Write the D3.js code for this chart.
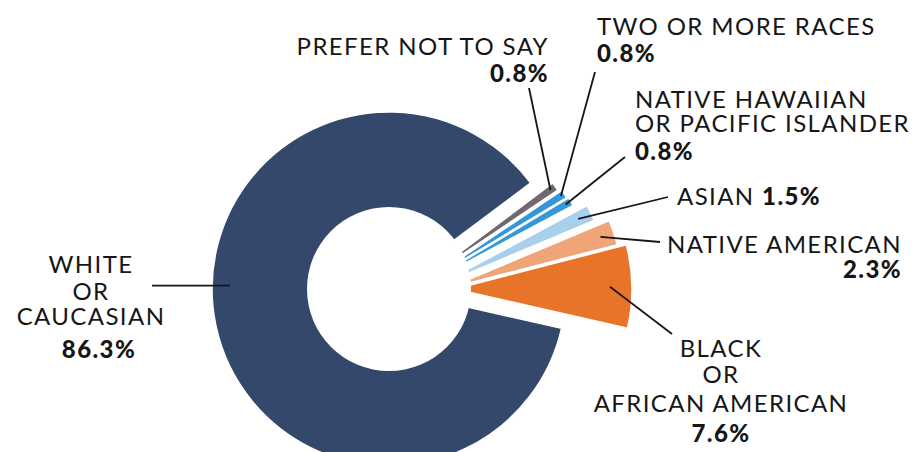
<!DOCTYPE html>
<html>
<head>
<meta charset="utf-8">
<script src="https://cdn.jsdelivr.net/npm/d3@7"></script>
<style>
  html, body { margin: 0; padding: 0; background: #ffffff; }
  svg { display: block; }
  text { font-family: Lato, "Open Sans", sans-serif; fill: #161616; }
</style>
</head>
<body>
<svg id="chart" width="919" height="452"></svg>
<script>
// ---- data -------------------------------------------------------------
const categories = [
  "Prefer not to say",
  "Two or more races",
  "Native Hawaiian or Pacific Islander",
  "Asian",
  "Native American",
  "Black or African American",
  "White or Caucasian"
];
const shares = [0.8, 0.8, 0.8, 1.5, 2.3, 7.6, 86.3];   // percent
const labelLines = [
  ["PREFER NOT TO SAY"],
  ["TWO OR MORE RACES"],
  ["NATIVE HAWAIIAN", "OR PACIFIC ISLANDER"],
  ["ASIAN"],
  ["NATIVE AMERICAN"],
  ["BLACK", "OR", "AFRICAN AMERICAN"],
  ["WHITE", "OR", "CAUCASIAN"]
];

// ---- styling ----------------------------------------------------------
const sliceColors = ["#716873", "#3597d6", "#3597d6", "#a8d0ec", "#efa577", "#e8742a", "#34486b"];
// how far each small slice is pulled out to the right of the ring
const pullOut = [22, 26, 28, 42, 57, 66, 0];

const width = 919, height = 452;
const cx = 389, cy = 289, R = 177, holeR = 82;
const deg = Math.PI / 180;
const startAngle = 53.2 * deg;

// label placement: x anchor, text-anchor, baselines of name lines, baseline of value,
// where the leader starts, and how far inside the slice rim it stops
const labelLayout = [
  { x: 549, anchor: "end",    lines: [55],            value: 82,  from: [529, 88],  inset: 6 },
  { x: 597, anchor: "start",  lines: [35],            value: 62,  from: [595, 72],  inset: 4 },
  { x: 635, anchor: "start",  lines: [108, 132],      value: 160, from: [625, 157], inset: 6 },
  { x: 677, anchor: "start",  lines: [205],           value: null, from: [668, 197], inset: 14 },
  { x: 902, anchor: "end",    lines: [253],           value: 278, from: [660, 242], inset: 14 },
  { x: 721, anchor: "middle", lines: [357, 383, 412], value: 442, from: [672, 334], inset: 22 },
  { x: 91,  anchor: "middle", lines: [273, 300, 325], value: 358, valueX: 99, from: [152, null], inset: 18, angle: -88.8 * deg }
];

const svg = d3.select("#chart");

const pie = d3.pie()
  .sort(null)
  .value(d => d)
  .startAngle(startAngle)
  .endAngle(startAngle + 2 * Math.PI);
const slices = pie(shares);

const arc = d3.arc().innerRadius(0).outerRadius(R);

const ring = svg.append("g").attr("transform", `translate(${cx},${cy})`);

// big slice first, the small exploded ones on top
const order = d3.range(slices.length).sort((a, b) => (a === 6 ? -1 : b === 6 ? 1 : a - b));
ring.selectAll("path.slice")
  .data(order.map(i => ({ i, s: slices[i] })))
  .join("path")
  .attr("class", "slice")
  .attr("d", d => arc(d.s))
  .attr("transform", d => `translate(${pullOut[d.i]},0)`)
  .attr("fill", d => sliceColors[d.i])
  .attr("stroke", "#ffffff")
  .attr("stroke-width", 1.6)
  .attr("stroke-linejoin", "miter");

// centre hole
ring.append("circle").attr("r", holeR).attr("fill", "#ffffff");

// ---- leaders -----------------------------------------------------------
function leaderEnd(i) {
  const s = slices[i], L = labelLayout[i];
  const a = L.angle !== undefined ? L.angle : (s.startAngle + s.endAngle) / 2;
  const r = R - L.inset;
  return [cx + pullOut[i] + r * Math.sin(a), cy - r * Math.cos(a)];
}

const leaders = svg.append("g");
labelLayout.forEach((L, i) => {
  const end = leaderEnd(i);
  const start = [L.from[0], L.from[1] === null ? end[1] : L.from[1]];
  leaders.append("line")
    .attr("x1", start[0]).attr("y1", start[1])
    .attr("x2", end[0]).attr("y2", end[1])
    .attr("stroke", "#161616")
    .attr("stroke-width", 1.8);
});

// ---- labels ------------------------------------------------------------
const fmt = v => d3.format(".1f")(v) + "%";
const labels = svg.append("g")
  .style("font-size", "24px")
  .style("letter-spacing", "1.4px");

labelLayout.forEach((L, i) => {
  const t = labels.append("text").attr("text-anchor", L.anchor);
  labelLines[i].forEach((line, k) => {
    t.append("tspan").attr("x", L.x).attr("y", L.lines[k]).text(line);
  });
  if (L.value === null) {
    t.append("tspan").text("\u00a0");
    t.append("tspan").attr("font-weight", 900).text(fmt(shares[i]));
  } else {
    t.append("tspan")
      .attr("x", L.valueX !== undefined ? L.valueX : L.x)
      .attr("y", L.value)
      .attr("font-weight", 900)
      .text(fmt(shares[i]));
  }
});
</script>
</body>
</html>
